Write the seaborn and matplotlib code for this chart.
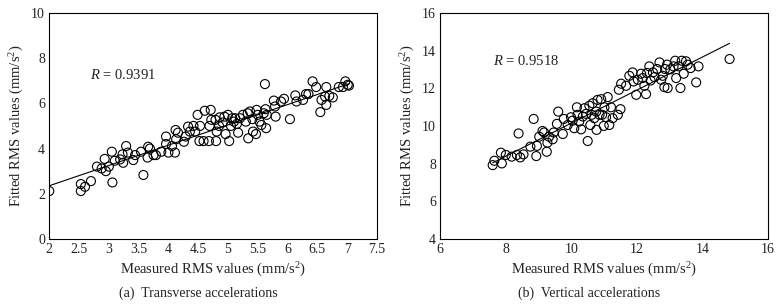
import matplotlib
matplotlib.use("Agg")
import matplotlib.pyplot as plt
import seaborn as sns
import numpy as np
import pandas as pd

sns.set_theme(style="white")
plt.rcParams['font.family'] = ['Liberation Serif', 'DejaVu Serif']
plt.rcParams['mathtext.fontset'] = 'custom'
plt.rcParams['mathtext.rm'] = 'Liberation Serif'
plt.rcParams['mathtext.it'] = 'Liberation Serif:italic'

# (a) transverse accelerations
trans_meas = [2.0, 2.53, 2.53, 2.60, 2.70, 2.80, 2.88, 2.93, 2.95, 3.0, 3.05, 3.06, 3.10, 3.19,
              3.24, 3.29, 3.23, 3.32, 3.41, 3.44, 3.58, 3.54, 3.66, 3.65, 3.69, 3.75, 3.79, 3.88,
              3.96, 3.96, 4.0, 4.06, 4.11, 4.12, 4.13, 4.16, 4.26, 4.29, 4.33, 4.36, 4.42, 4.45,
              4.49, 4.52, 4.53, 4.59, 4.61, 4.68, 4.69, 4.71, 4.72, 4.79, 4.81, 4.80, 4.85, 4.86,
              4.91, 4.94, 4.96, 5.0, 5.02, 5.05, 5.07, 5.10, 5.12, 5.15, 5.17, 5.2, 5.25, 5.30,
              5.33, 5.34, 5.37, 5.41, 5.42, 5.47, 5.48, 5.5, 5.53, 5.56, 5.60, 5.62, 5.64, 5.63,
              5.65, 5.77, 5.79, 5.80, 5.89, 5.94, 6.04, 6.13, 6.15, 6.26, 6.31, 6.35, 6.42, 6.48,
              6.55, 6.57, 6.63, 6.65, 6.65, 6.70, 6.76, 6.86, 6.93, 6.97, 7.01, 7.03]
trans_fit = [2.12, 2.43, 2.12, 2.31, 2.56, 3.2, 3.12, 3.54, 3.0, 3.2, 3.86, 2.5, 3.46, 3.52,
             3.37, 4.11, 3.74, 3.82, 3.49, 3.71, 2.83, 3.86, 4.08, 3.6, 4.0, 3.71, 3.71, 3.86,
             4.53, 4.2, 3.82, 4.11, 3.82, 4.82, 4.41, 4.7, 4.3, 4.53, 4.97, 4.75, 5.0, 4.75,
             5.49, 4.33, 5.0, 4.33, 5.67, 4.33, 5.0, 5.71, 5.27, 5.27, 4.75, 4.33, 5.0, 5.38,
             5.15, 5.41, 4.64, 5.49, 4.33, 5.0, 5.34, 5.19, 5.34, 5.09, 4.7, 5.34, 5.49, 5.19,
             5.56, 4.45, 5.64, 5.3, 4.75, 4.64, 5.71, 5.49, 5.19, 5.04, 5.56, 6.85, 4.9, 5.74,
             5.49, 6.12, 5.86, 5.41, 6.08, 6.2, 5.3, 6.35, 6.08, 6.15, 6.41, 6.41, 6.97, 6.72,
             5.61, 6.15, 6.3, 5.93, 6.72, 6.33, 6.26, 6.72, 6.72, 6.97, 6.82, 6.78]

# (b) vertical accelerations
vert_meas = [7.6, 7.65, 7.85, 7.88, 8.0, 8.18, 8.34, 8.39, 8.44, 8.54, 8.75, 8.85, 8.93, 8.95,
             9.02, 9.12, 9.17, 9.25, 9.27, 9.32, 9.43, 9.46, 9.56, 9.60, 9.74, 9.77, 9.89, 9.99,
             10.04, 10.09, 10.17, 10.19, 10.24, 10.30, 10.35, 10.40, 10.45, 10.50, 10.55, 10.58,
             10.62, 10.65, 10.70, 10.76, 10.77, 10.80, 10.86, 10.91, 10.94, 10.99, 11.01, 11.06,
             11.11, 11.16, 11.21, 11.26, 11.42, 11.45, 11.50, 11.52, 11.67, 11.77, 11.87, 11.90,
             11.98, 12.03, 12.13, 12.18, 12.23, 12.28, 12.31, 12.38, 12.42, 12.49, 12.54, 12.62,
             12.69, 12.74, 12.79, 12.84, 12.86, 12.92, 12.94, 13.02, 13.12, 13.17, 13.20, 13.27,
             13.33, 13.37, 13.43, 13.50, 13.55, 13.64, 13.81, 13.88, 14.83]
vert_fit = [7.92, 8.15, 8.58, 8.01, 8.46, 8.37, 8.46, 9.6, 8.33, 8.49, 8.9, 10.37, 8.4, 8.94,
            9.43, 9.73, 9.65, 8.63, 9.11, 9.43, 9.29, 9.65, 10.11, 10.76, 9.57, 10.37, 10.05, 10.46,
            10.28, 9.88, 10.99, 10.59, 10.23, 9.82, 10.5, 10.94, 10.64, 9.2, 11.07, 10.05,
            10.59, 11.2, 10.41, 10.76, 9.79, 11.38, 10.59, 11.42, 10.59, 10.0, 10.99, 10.46,
            11.53, 10.05, 10.99, 10.41, 10.59, 11.92, 10.89, 12.24, 12.13, 12.66, 12.84, 12.36,
            11.65, 12.45, 12.77, 12.54, 12.13, 11.69, 12.81, 13.16, 12.41, 12.84, 12.59, 13.02,
            13.37, 12.45, 12.66, 12.06, 13.02, 13.25, 12.01, 13.0, 13.16, 13.46, 12.54, 13.16,
            12.01, 13.46, 12.77, 13.43, 13.25, 13.07, 12.31, 13.16, 13.55]

r_values = ["0.9391", "0.9518"]
captions = ["(a)  Transverse accelerations", "(b)  Vertical accelerations"]

panels = [
    dict(x=trans_meas, y=trans_fit, xlim=(2, 7.5), ylim=(0, 10),
         xticks=np.arange(2, 7.6, 0.5), yticks=np.arange(0, 11, 2),
         rpos=(2.69, 7.26), left=0.063),
    dict(x=vert_meas, y=vert_fit, xlim=(6, 16), ylim=(4, 16),
         xticks=np.arange(6, 17, 2), yticks=np.arange(4, 17, 2),
         rpos=(7.6, 13.43), left=0.563),
]

fig = plt.figure(figsize=(7.82, 3.06), dpi=100)

for i, p in enumerate(panels):
    ax = fig.add_axes([p["left"], 0.219, 0.419, 0.739])
    df = pd.DataFrame({"measured": p["x"], "fitted": p["y"]})
    sns.regplot(data=df, x="measured", y="fitted", ax=ax, ci=None, scatter=False,
                truncate=True, line_kws=dict(color="black", lw=0.8))
    sns.scatterplot(data=df, x="measured", y="fitted", ax=ax, s=42,
                    facecolors="none", edgecolor="black", linewidth=0.8, zorder=3)
    ax.set_xlim(*p["xlim"])
    ax.set_ylim(*p["ylim"])
    ax.set_xticks(p["xticks"])
    ax.set_yticks(p["yticks"])
    ax.set_xticklabels([f"{t:g}" for t in p["xticks"]])
    ax.set_yticklabels([f"{t:g}" for t in p["yticks"]])
    ax.tick_params(direction="in", length=3, width=0.8, labelsize=10, color="black",
                   labelcolor="#222222", pad=3)
    for s in ax.spines.values():
        s.set_color("black")
        s.set_linewidth(0.8)
    ax.set_xlabel("Measured RMS values (mm/s$^2$)", fontsize=10.5, color="#222222", labelpad=3)
    ax.set_ylabel("Fitted RMS values (mm/s$^2$)", fontsize=10.5, color="#222222", labelpad=4)
    ax.text(p["rpos"][0], p["rpos"][1], f"$R$ = {r_values[i]}", fontsize=10.5,
            va="center", ha="left", color="#222222")
    fig.text(p["left"] + 0.19, 0.042, captions[i], fontsize=10, ha="center",
             va="center", color="#222222")

fig.savefig("out.png", dpi=100)
